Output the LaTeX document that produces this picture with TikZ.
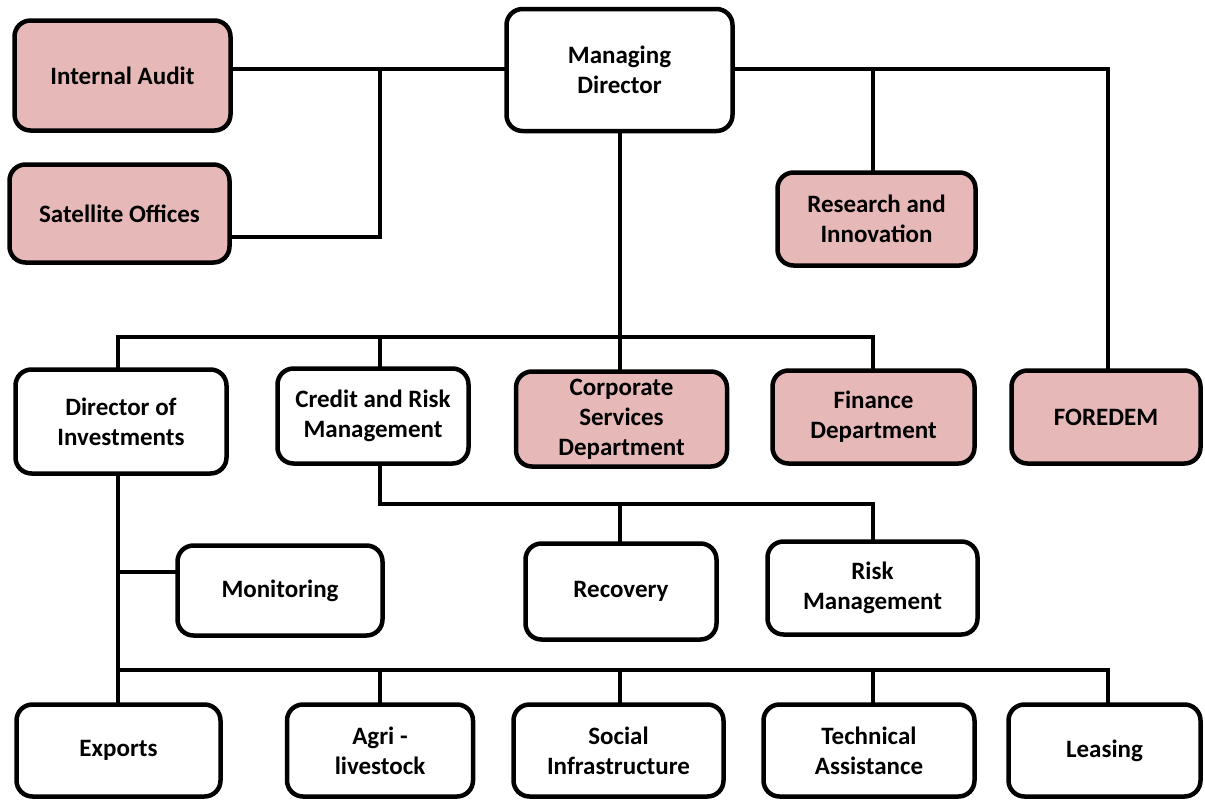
\documentclass[tikz,border=0pt]{standalone}
\usepackage{fontspec}
\setmainfont{Carlito}
\definecolor{pinkc}{HTML}{E6B8B7}
\begin{document}
\begin{tikzpicture}[x=1pt,y=-1pt,
  box/.style={draw=black, fill=white, line width=4.5pt, rounded corners=16pt, align=center,
    font=\fontsize{25}{30}\selectfont\bfseries, inner sep=0pt},
  pbox/.style={box, fill=pinkc},
  conn/.style={line width=3.5pt, line cap=rect}]
\useasboundingbox (0,0) rectangle (1205,803);
\coordinate (jtop) at (380,69);
\coordinate (jr) at (873,69);
\coordinate (h1) at (620,337);
\coordinate (h2) at (380,504);
\coordinate (h3) at (118,670);
\coordinate (mon) at (118,572);
% nodes
\node[pbox, minimum width=216pt, minimum height=110pt] (ia) at (122.5,75.5) {Internal Audit};
\node[pbox, minimum width=220pt, minimum height=98pt] (so) at (119.5,213.5) {Satellite Offices};
\node[box, minimum width=226pt, minimum height=122pt] (md) at (619.5,70) {Managing\\Director};
\node[pbox, minimum width=198pt, minimum height=93pt] (ri) at (876.5,219) {Research and\\Innovation};
\node[box, minimum width=211pt, minimum height=104pt] (di) at (121,421.5) {Director of\\Investments};
\node[box, minimum width=191pt, minimum height=95pt] (cr) at (373,416) {Credit and Risk\\Management};
\node[pbox, minimum width=211pt, minimum height=95pt] (cs) at (621.5,419) {Corporate\\Services\\Department};
\node[pbox, minimum width=202pt, minimum height=93pt] (fd) at (873.5,417) {Finance\\Department};
\node[pbox, minimum width=189pt, minimum height=93pt] (fo) at (1106,417) {FOREDEM};
\node[box, minimum width=205pt, minimum height=90pt] (mo) at (280,590.5) {Monitoring};
\node[box, minimum width=191pt, minimum height=96pt] (re) at (621,591.5) {Recovery};
\node[box, minimum width=210pt, minimum height=93pt] (rm) at (872.5,588) {Risk\\Management};
\node[box, minimum width=204pt, minimum height=92pt] (ex) at (118.5,750.5) {Exports};
\node[box, minimum width=186pt, minimum height=92pt] (ag) at (380,750.5) {Agri -\\livestock};
\node[box, minimum width=210pt, minimum height=92pt] (si) at (618.5,750.5) {Social\\Infrastructure};
\node[box, minimum width=211pt, minimum height=92pt] (ta) at (869,750.5) {Technical\\Assistance};
\node[box, minimum width=192pt, minimum height=92pt] (le) at (1104.5,750.5) {Leasing};
% connectors
\draw[conn] (ia.east |- jtop) -- (md.west |- jtop);
\draw[conn] (jtop) |- (so.east |- 0,237);
\draw[conn] (md.east |- jr) -| (fo.north -| 1108,0);
\draw[conn] (jr) -- (ri.north -| jr);
\draw[conn] (md.south -| h1) -- (h1);
\draw[conn] (di.north -| h3) |- (h1) -| (fd.north -| 873,0);
\draw[conn] (cr.north -| h2) -- (h2 |- h1);
\draw[conn] (h1) -- (cs.north -| h1);
\draw[conn] (cr.south -| h2) -- (h2) -| (rm.north -| 873,0);
\draw[conn] (re.north -| h1) -- (h1 |- h2);
\draw[conn] (di.south -| h3) -- (h3) -| (le.north -| 1108,0);
\draw[conn] (h3) -- (ex.north -| h3);
\draw[conn] (mon) -- (mo.west |- mon);
\draw[conn] (ag.north -| h2) -- (h2 |- h3);
\draw[conn] (si.north -| h1) -- (h1 |- h3);
\draw[conn] (ta.north -| jr) -- (jr |- h3);
\end{tikzpicture}
\end{document}
